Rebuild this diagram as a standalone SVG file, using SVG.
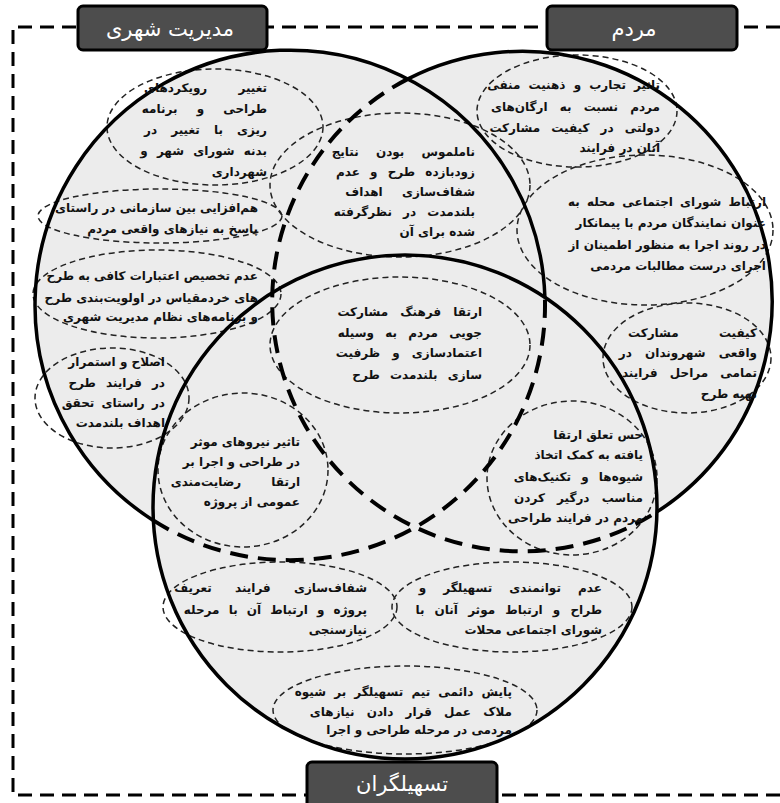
<svg xmlns="http://www.w3.org/2000/svg" width="780" height="803" viewBox="0 0 780 803">
<style>
.fill{fill:#ececec;stroke:none}
.solid{fill:none;stroke:#000;stroke-width:3.5}
.thick{fill:none;stroke:#000;stroke-width:4;stroke-dasharray:18 10}
.el{fill:none;stroke:#222;stroke-width:1.5;stroke-dasharray:6 4}
.t{font-family:"DejaVu Sans","Noto Sans",sans-serif;font-size:12px;font-weight:bold;fill:#111;text-anchor:end}
.lab{fill:#4d4d4d;stroke:#000;stroke-width:3}
.lt{font-family:"DejaVu Sans","Noto Sans",sans-serif;font-size:21px;fill:#fff;text-anchor:middle}
.frame{fill:none;stroke:#000;stroke-width:3;stroke-dasharray:14 8}
</style>
<rect width="780" height="803" fill="#fff"/>
<g id="frame"><path class="frame" d="M780 27 H13 V795 H780"/></g>
<g id="fills">
<circle class="fill" cx="290" cy="305" r="255"/>
<circle class="fill" cx="521" cy="302" r="250"/>
<circle class="fill" cx="405" cy="507" r="252"/>
</g>
<g id="ellipses">
<ellipse class="el" cx="215" cy="127" rx="108" ry="58"/>
<ellipse class="el" cx="400" cy="185" rx="130" ry="72"/>
<ellipse class="el" cx="577" cy="111" rx="100" ry="56"/>
<ellipse class="el" cx="160" cy="216" rx="122" ry="27"/>
<ellipse class="el" cx="157" cy="294" rx="124" ry="44"/>
<ellipse class="el" cx="112" cy="398" rx="77" ry="50"/>
<ellipse class="el" cx="645" cy="230" rx="128" ry="75"/>
<ellipse class="el" cx="687" cy="358" rx="84" ry="55"/>
<ellipse class="el" cx="400" cy="345" rx="130" ry="68"/>
<ellipse class="el" cx="243" cy="470" rx="85" ry="77"/>
<ellipse class="el" cx="572" cy="478" rx="85" ry="77"/>
<ellipse class="el" cx="280" cy="607" rx="117" ry="45"/>
<ellipse class="el" cx="512" cy="607" rx="120" ry="45"/>
<ellipse class="el" cx="405" cy="710" rx="132" ry="44"/>
</g>
<g id="circle-urban">
<path class="solid" d="M544.9 297.4 A255 255 0 1 0 153.3 520.4"/>
<path class="thick" d="M153.3 520.4 A255 255 0 0 0 544.9 297.4"/>
</g>
<g id="circle-people">
<path class="solid" d="M656.9 511.9 A250 250 0 0 0 408 78.9"/>
<path class="thick" d="M408 78.9 A250 250 0 1 0 656.9 511.9"/>
</g>
<g id="circle-facilitators">
<circle class="solid" cx="405" cy="507" r="252"/>
</g>
<g id="n1"><text class="t"><tspan x="267" y="92" word-spacing="27">تغییر رویکردهای</tspan><tspan x="267" y="113" word-spacing="15">طراحی و برنامه</tspan><tspan x="267" y="134" word-spacing="10">ریزی با تغییر در</tspan><tspan x="267" y="155" word-spacing="5">بدنه شورای شهر و</tspan><tspan x="267" y="176">شهرداری</tspan></text></g>
<g id="n2"><text class="t"><tspan x="475" y="156" word-spacing="13">ناملموس بودن نتایج</tspan><tspan x="475" y="176" word-spacing="6">زودبازده طرح و عدم</tspan><tspan x="475" y="196" word-spacing="15">شفاف‌سازی اهداف</tspan><tspan x="475" y="216" word-spacing="7">بلندمدت در نظرگرفته</tspan><tspan x="475" y="236">شده برای آن</tspan></text></g>
<g id="n3"><text class="t"><tspan x="660" y="89" word-spacing="4">تاثیر تجارب و ذهنیت منفی</tspan><tspan x="660" y="111" word-spacing="8">مردم نسبت به ارگان‌های</tspan><tspan x="660" y="132" word-spacing="7">دولتی در کیفیت مشارکت</tspan><tspan x="660" y="152">آنان در فرایند</tspan></text></g>
<g id="n4"><text class="t"><tspan x="258" y="212">هم‌افزایی بین سازمانی در راستای</tspan><tspan x="258" y="233">پاسخ به نیازهای واقعی مردم</tspan></text></g>
<g id="n5"><text class="t"><tspan x="258" y="280">عدم تخصیص اعتبارات کافی به طرح</tspan><tspan x="258" y="302">های خردمقیاس در اولویت‌بندی طرح</tspan><tspan x="258" y="321">و برنامه‌های نظام مدیریت شهری</tspan></text></g>
<g id="n6"><text class="t"><tspan x="165" y="366">اصلاح و استمرار</tspan><tspan x="165" y="387" word-spacing="6">در فرایند طرح</tspan><tspan x="165" y="407" word-spacing="3">در راستای تحقق</tspan><tspan x="165" y="427">اهداف بلندمدت</tspan></text></g>
<g id="n7"><text class="t"><tspan x="766" y="206" word-spacing="3">ارتباط شورای اجتماعی محله به</tspan><tspan x="766" y="227">عنوان نمایندگان مردم با پیمانکار</tspan><tspan x="766" y="249">در روند اجرا به منظور اطمینان از</tspan><tspan x="766" y="270">اجرای درست مطالبات مردمی</tspan></text></g>
<g id="n8"><text class="t"><tspan x="757" y="337" word-spacing="36">کیفیت مشارکت</tspan><tspan x="757" y="357" word-spacing="9">واقعی شهروندان در</tspan><tspan x="757" y="377" word-spacing="8">تمامی مراحل فرایند</tspan><tspan x="757" y="398">تهیه طرح</tspan></text></g>
<g id="n9"><text class="t"><tspan x="482" y="316" word-spacing="8">ارتقا فرهنگ مشارکت</tspan><tspan x="482" y="337" word-spacing="7">جویی مردم به وسیله</tspan><tspan x="482" y="357" word-spacing="8">اعتمادسازی و ظرفیت</tspan><tspan x="482" y="379" word-spacing="6">سازی بلندمدت طرح</tspan></text></g>
<g id="n10"><text class="t"><tspan x="300" y="446">تاثیر نیروهای موثر</tspan><tspan x="300" y="466">در طراحی و اجرا بر</tspan><tspan x="300" y="486" word-spacing="26">ارتقا رضایت‌مندی</tspan><tspan x="300" y="506">عمومی از پروژه</tspan></text></g>
<g id="n11"><text class="t"><tspan x="643" y="439">حس تعلق ارتقا</tspan><tspan x="643" y="459">یافته به کمک اتخاذ</tspan><tspan x="643" y="481" word-spacing="6">شیوه‌ها و تکنیک‌های</tspan><tspan x="643" y="502" word-spacing="8">مناسب درگیر کردن</tspan><tspan x="643" y="522">مردم در فرایند طراحی</tspan></text></g>
<g id="n12"><text class="t"><tspan x="367" y="592" word-spacing="19">شفاف‌سازی فرایند تعریف</tspan><tspan x="367" y="614" word-spacing="5">پروژه و ارتباط آن با مرحله</tspan><tspan x="367" y="634">نیازسنجی</tspan></text></g>
<g id="n13"><text class="t"><tspan x="602" y="592" word-spacing="13">عدم توانمندی تسهیلگر و</tspan><tspan x="602" y="614" word-spacing="6">طراح و ارتباط موثر آنان با</tspan><tspan x="602" y="634">شورای اجتماعی محلات</tspan></text></g>
<g id="n14"><text class="t"><tspan x="512" y="696" word-spacing="4">پایش دائمی تیم تسهیلگر بر شیوه</tspan><tspan x="512" y="716" word-spacing="8">ملاک عمل قرار دادن نیازهای</tspan><tspan x="512" y="734">مردمی در مرحله طراحی و اجرا</tspan></text></g>
<g id="label-urban"><rect class="lab" x="78" y="6" width="189" height="44" rx="5"/><text class="lt" x="170" y="36">مدیریت شهری</text></g>
<g id="label-people"><rect class="lab" x="547" y="6" width="190" height="44" rx="5"/><text class="lt" x="634" y="36">مردم</text></g>
<g id="label-facilitators"><rect class="lab" x="307" y="762" width="190" height="50" rx="5"/><text class="lt" x="402" y="791">تسهیلگران</text></g>
</svg>
